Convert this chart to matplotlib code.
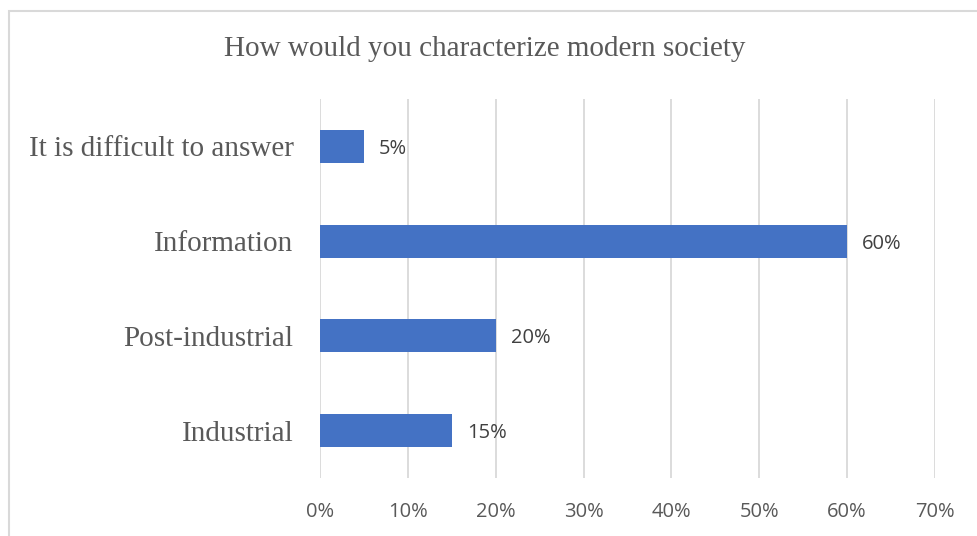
import matplotlib

matplotlib.use("Agg")

import matplotlib.pyplot as plt  # noqa: E402
from matplotlib.patches import Rectangle  # noqa: E402

categories = ["Industrial", "Post-industrial", "Information", "It is difficult to answer"]
shares = [15, 20, 60, 5]
x_ticks = [0, 10, 20, 30, 40, 50, 60, 70]

BAR_COLOR = "#4472C4"
TEXT_COLOR = "#595959"
GRID_COLOR = "#d9d9d9"
SERIF = ["Liberation Serif", "DejaVu Serif"]
SANS = ["Open Sans", "DejaVu Sans"]

fig = plt.figure(figsize=(9.77, 5.36), dpi=100)
ax = fig.add_axes([320 / 977, 1 - 478 / 536, (935 - 320) / 977, (478 - 99) / 536])

positions = range(len(categories))
ax.barh(positions, shares, height=0.35, color=BAR_COLOR, zorder=3)
for pos, value in zip(positions, shares):
    ax.text(value + 1.7, pos, f"{value}%", va="center_baseline", ha="left",
            fontsize=14.5, color="#404040", family=SANS)

ax.set_xlim(0, 70)
ax.set_ylim(-0.5, len(categories) - 0.5)
ax.set_xticks(x_ticks)
ax.set_xticklabels([f"{t}%" for t in x_ticks], family=SANS, fontsize=14.5, color=TEXT_COLOR)
ax.set_yticks(list(positions))
ax.set_yticklabels(categories, fontsize=21, color=TEXT_COLOR)
for label in ax.get_yticklabels():
    label.set_family(SERIF)
ax.tick_params(axis="both", length=0)
ax.tick_params(axis="x", pad=17)
ax.tick_params(axis="y", pad=19)
ax.grid(axis="x", color=GRID_COLOR, linewidth=1.3, zorder=0)
for spine in ax.spines.values():
    spine.set_visible(False)

fig.text(485 / 977, 1 - 49 / 536, "How would you characterize modern society",
         ha="center", va="center", fontsize=21, color=TEXT_COLOR, family=SERIF)

fig.patches.append(Rectangle((9 / 977, -0.1), 1.2, 1 - 11 / 536 + 0.1, transform=fig.transFigure,
                             fill=False, edgecolor=GRID_COLOR, linewidth=1.5))

fig.savefig("out.png")
plt.close(fig)
